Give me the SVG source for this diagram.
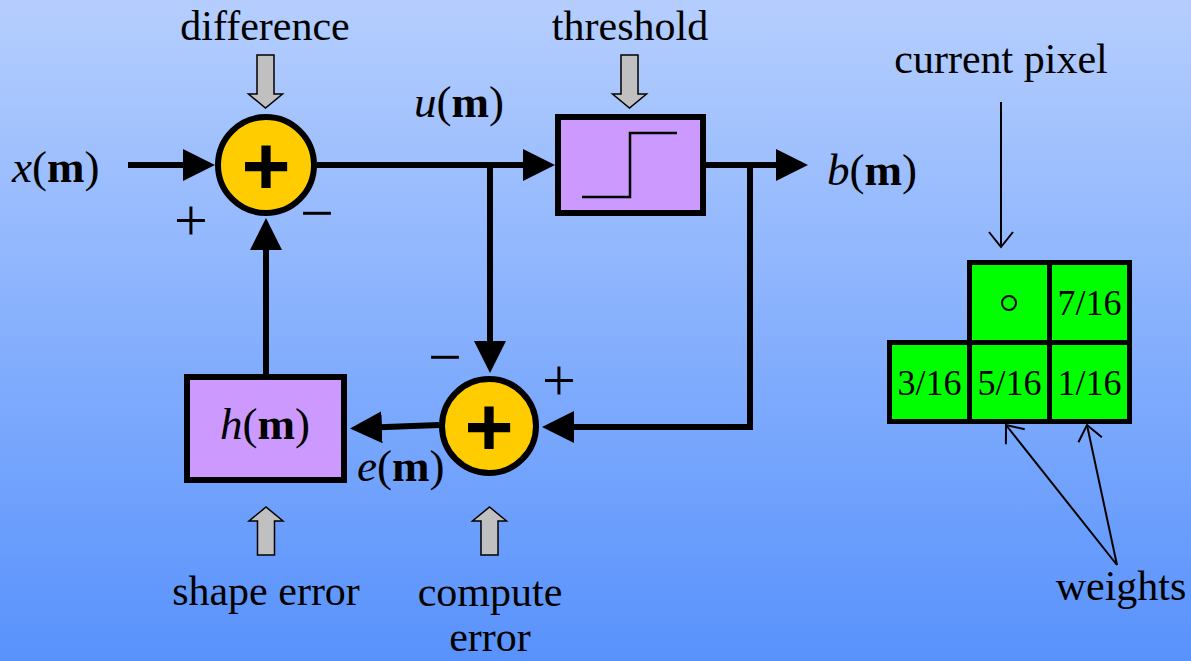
<svg xmlns="http://www.w3.org/2000/svg" width="1191" height="661" viewBox="0 0 1191 661">
<defs>
<linearGradient id="bg" x1="0" y1="0" x2="0" y2="1">
<stop offset="0" stop-color="#b5cefe"/>
<stop offset="1" stop-color="#5892fc"/>
</linearGradient>
<marker id="ah" markerUnits="userSpaceOnUse" markerWidth="32" markerHeight="32" viewBox="0 0 32 32" refX="22" refY="16" orient="auto">
<path d="M0,0 L32,16 L0,32 z" fill="#000"/>
</marker>
<marker id="oh" markerUnits="userSpaceOnUse" markerWidth="20" markerHeight="26" viewBox="0 0 20 26" refX="16" refY="13" orient="auto">
<path d="M1,1 L16,13 L1,25" fill="none" stroke="#000" stroke-width="2"/>
</marker>
<style>
.wire{fill:none;stroke:#000;stroke-width:6}
.thin{fill:none;stroke:#000;stroke-width:2}
.sum{fill:#ffcc00;stroke:#000;stroke-width:6}
.blk{fill:#cc99ff;stroke:#000;stroke-width:6}
.cell{fill:#00ff00;stroke:#000;stroke-width:5}
.gray{fill:#c0c0c0;stroke:#000;stroke-width:1.5;stroke-linejoin:miter}
.lbl{font-family:"Liberation Serif","Times New Roman",serif;font-size:42px;fill:#000}
.math{font-family:"Liberation Serif","Times New Roman",serif;font-size:45px;fill:#000}
.num{font-family:"Liberation Serif","Times New Roman",serif;font-size:36px;fill:#000}
.sgn{font-family:"Liberation Serif","Times New Roman",serif;font-size:60px;fill:#000}
.bplus{font-family:"Liberation Sans",Arial,sans-serif;font-size:84px;font-weight:bold;fill:#000}
</style>
</defs>
<rect x="0" y="0" width="1191" height="661" fill="url(#bg)"/>

<g id="connectors">
<line class="wire" x1="128" y1="165" x2="205" y2="165" marker-end="url(#ah)"/>
<line class="wire" x1="317" y1="165" x2="545" y2="165" marker-end="url(#ah)"/>
<line class="wire" x1="490" y1="165" x2="490" y2="363" marker-end="url(#ah)"/>
<line class="wire" x1="706" y1="165" x2="798" y2="165" marker-end="url(#ah)"/>
<path class="wire" d="M750,165 V427 H552" marker-end="url(#ah)"/>
<path class="wire" d="M439,425 L360,428" marker-end="url(#ah)"/>
<line class="wire" x1="266" y1="374" x2="266" y2="228" marker-end="url(#ah)"/>
<line class="thin" x1="1001" y1="102" x2="1001" y2="247" marker-end="url(#oh)"/>
<line class="thin" x1="1117" y1="565" x2="1006" y2="425" marker-end="url(#oh)"/>
<line class="thin" x1="1117" y1="565" x2="1087" y2="425" marker-end="url(#oh)"/>
</g>

<g id="sum1">
<circle class="sum" cx="266" cy="165" r="48"/>
<text class="bplus" x="266" y="195" text-anchor="middle">+</text>
</g>

<g id="threshold">
<rect class="blk" x="558" y="117" width="145" height="96"/>
<path d="M582,197 H630 V133 H677" fill="none" stroke="#000" stroke-width="2.5"/>
</g>

<g id="sum2">
<circle class="sum" cx="489" cy="426" r="47"/>
<text class="bplus" x="489" y="456" text-anchor="middle">+</text>
</g>

<g id="hblock">
<rect class="blk" x="187" y="377" width="157" height="103"/>
<text class="math" x="265" y="439" text-anchor="middle"><tspan font-style="italic">h</tspan>(<tspan font-weight="bold">m</tspan>)</text>
</g>

<g id="gray-arrows">
<polygon class="gray" points="257,55 274,55 274,94 282.5,94 265.5,108 248.5,94 257,94"/>
<polygon class="gray" points="621,55 638,55 638,94 646.5,94 629.5,108 612.5,94 621,94"/>
<polygon class="gray" points="257.5,555 274.5,555 274.5,521 283,521 266,507 249,521 257.5,521"/>
<polygon class="gray" points="481,555 498,555 498,521 506.5,521 489.5,507 472.5,521 481,521"/>
</g>

<g id="labels">
<text class="lbl" x="265" y="40" text-anchor="middle">difference</text>
<text class="lbl" x="630" y="40" text-anchor="middle">threshold</text>
<text class="lbl" x="1001" y="73" text-anchor="middle">current pixel</text>
<text class="lbl" x="1121" y="600" text-anchor="middle" font-size="41">weights</text>
<text class="lbl" x="266" y="605" text-anchor="middle">shape error</text>
<text class="lbl" x="490" y="606" text-anchor="middle">compute</text>
<text class="lbl" x="490" y="651" text-anchor="middle">error</text>
<text class="math" x="12" y="182"><tspan font-style="italic">x</tspan>(<tspan font-weight="bold">m</tspan>)</text>
<text class="math" x="414" y="117"><tspan font-style="italic">u</tspan>(<tspan font-weight="bold">m</tspan>)</text>
<text class="math" x="827" y="185"><tspan font-style="italic">b</tspan>(<tspan font-weight="bold">m</tspan>)</text>
<text class="math" x="357" y="481"><tspan font-style="italic">e</tspan>(<tspan font-weight="bold">m</tspan>)</text>
<text class="sgn" x="191" y="240" text-anchor="middle">+</text>
<text class="sgn" x="317" y="233" text-anchor="middle">−</text>
<text class="sgn" x="445" y="377" text-anchor="middle">−</text>
<text class="sgn" x="559" y="400" text-anchor="middle">+</text>
</g>

<g id="grid">
<rect class="cell" x="969.5" y="262.5" width="80" height="80"/>
<rect class="cell" x="1049.5" y="262.5" width="80" height="80"/>
<rect class="cell" x="889.5" y="342.5" width="80" height="79"/>
<rect class="cell" x="969.5" y="342.5" width="80" height="79"/>
<rect class="cell" x="1049.5" y="342.5" width="80" height="79"/>
<circle cx="1009" cy="303" r="7" fill="none" stroke="#000" stroke-width="2"/>
<text class="num" x="1089.5" y="315" text-anchor="middle">7/16</text>
<text class="num" x="929.5" y="395" text-anchor="middle">3/16</text>
<text class="num" x="1009.5" y="395" text-anchor="middle">5/16</text>
<text class="num" x="1089.5" y="395" text-anchor="middle">1/16</text>
</g>
</svg>
